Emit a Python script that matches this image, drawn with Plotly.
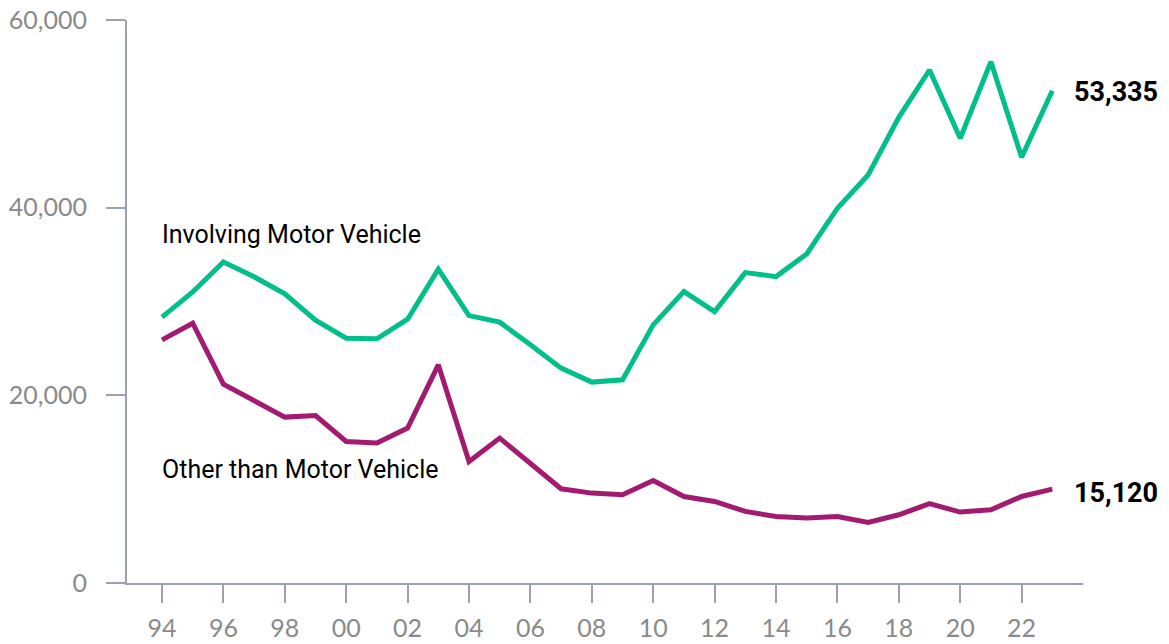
import plotly.graph_objects as go

years = list(range(1994, 2024))

motor_vehicle = [
    28330, 31020, 34220, 32630, 30810, 28000, 26090, 26020, 28110, 33440,
    28500, 27800, 25380, 22900, 21410, 21650, 27510, 31060, 28930, 33080,
    32650, 35070, 39940, 43480, 49630, 54670, 47390, 55550, 45370, 52460,
]
other_than_mv = [
    25910, 27690, 21190, 19440, 17680, 17850, 15080, 14910, 16510, 23250,
    12950, 15440, 12780, 10040, 9580, 9400, 10930, 9220, 8690, 7630,
    7090, 6920, 7090, 6450, 7270, 8450, 7560, 7810, 9220, 10010,
]

series_names = ["Involving Motor Vehicle", "Other than Motor Vehicle"]
end_labels = ["53,335", "15,120"]

x_tickvals = list(range(1994, 2023, 2))
x_ticktext = ["94", "96", "98", "00", "02", "04", "06", "08", "10",
              "12", "14", "16", "18", "20", "22"]
y_tickvals = [0, 20000, 40000, 60000]

GREEN = "#00BF8A"
MAGENTA = "#A31B70"
AXIS_GRAY = "#9AA2AB"
TICK_FONT = dict(family="Lato, Roboto, sans-serif", size=25, color="#8A8A8A")

fig = go.Figure()
fig.add_trace(go.Scatter(x=years, y=motor_vehicle, mode="lines", name=series_names[0],
                         line=dict(color=GREEN, width=5)))
fig.add_trace(go.Scatter(x=years, y=other_than_mv, mode="lines", name=series_names[1],
                         line=dict(color=MAGENTA, width=5)))

# series names sit inside the plot, values at the line ends
fig.add_annotation(x=years[0], y=37100, text=series_names[0], showarrow=False,
                   xanchor="left", yanchor="middle", xshift=-2,
                   font=dict(family="Roboto", size=25, color="#000000"))
fig.add_annotation(x=years[0], y=12070, text=series_names[1], showarrow=False,
                   xanchor="left", yanchor="middle", xshift=-2,
                   font=dict(family="Roboto", size=25, color="#000000"))
fig.add_annotation(x=years[-1], y=motor_vehicle[-1], text="<b>" + end_labels[0] + "</b>",
                   showarrow=False, xanchor="left", yanchor="middle", xshift=20, yshift=-1,
                   font=dict(family="Roboto", size=27, color="#000000"))
fig.add_annotation(x=years[-1], y=other_than_mv[-1], text="<b>" + end_labels[1] + "</b>",
                   showarrow=False, xanchor="left", yanchor="middle", xshift=20, yshift=-4,
                   font=dict(family="Roboto", size=27, color="#000000"))

fig.update_xaxes(range=[1992.86, 2024.0], tickvals=x_tickvals, ticktext=x_ticktext,
                 showgrid=False, zeroline=False, showline=True, linecolor=AXIS_GRAY,
                 linewidth=2, ticks="outside", ticklen=18, tickwidth=2, tickcolor=AXIS_GRAY,
                 tickfont=TICK_FONT, ticklabelstandoff=4, automargin=False)
fig.update_yaxes(range=[0, 60000], tickvals=y_tickvals, tickformat=",",
                 showgrid=False, zeroline=False, showline=True, linecolor=AXIS_GRAY,
                 linewidth=2, ticks="outside", ticklen=19, tickwidth=2, tickcolor=AXIS_GRAY,
                 tickfont=TICK_FONT, ticklabelstandoff=14, automargin=False)
fig.update_layout(width=1169, height=644, showlegend=False,
                  margin=dict(l=127, r=86, t=20, b=61, autoexpand=False),
                  plot_bgcolor="white", paper_bgcolor="white")

# drop the browser's default body margin so the figure starts at the page corner
fig.write_html("out.html", config={"displayModeBar": False},
               post_script="document.body.style.margin = '0';")
